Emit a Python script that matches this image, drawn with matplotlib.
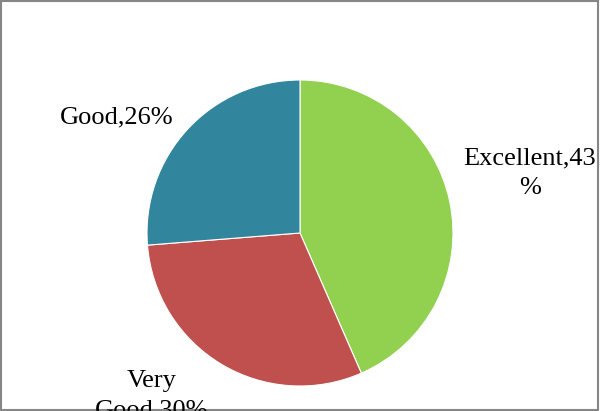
import matplotlib
matplotlib.use("Agg")
import matplotlib.pyplot as plt
from matplotlib.patches import Rectangle

categories = ["Excellent", "Very Good", "Good"]
values = [43, 30, 26]
colors = ["#92D050", "#C0504D", "#31859C"]
label_texts = ["Excellent,43\n%", "Very\nGood,30%", "Good,26%"]

W, H = 600, 411
fig = plt.figure(figsize=(W / 100, H / 100), dpi=100)
fig.patch.set_facecolor("white")

cx, cy, r = 300, 411 - 233, 153
ax = fig.add_axes([(cx - r) / W, (cy - r) / H, 2 * r / W, 2 * r / H])
ax.pie(values, colors=colors, startangle=90, counterclock=False,
       wedgeprops=dict(linewidth=0.8, edgecolor="white"))
ax.set_xlim(-1, 1)
ax.set_ylim(-1, 1)
ax.set_aspect("equal")
ax.axis("off")

# label positions in pixel coordinates (x, y from top)
label_pos = [(530, 173), (152, 396), (117, 117)]
for txt, (px, py) in zip(label_texts, label_pos):
    fig.text(px / W, 1 - py / H, txt, ha="center", va="center",
             family="Liberation Serif", fontsize=19, color="black",
             linespacing=1.45, multialignment="center")

border = Rectangle((0.5 / W, 1.5 / H), (W - 2.5) / W, (H - 2.5) / H,
                   transform=fig.transFigure, fill=False,
                   edgecolor="#868686", linewidth=1.5, clip_on=False)
fig.patches.append(border)

fig.savefig("out.png", dpi=100)
